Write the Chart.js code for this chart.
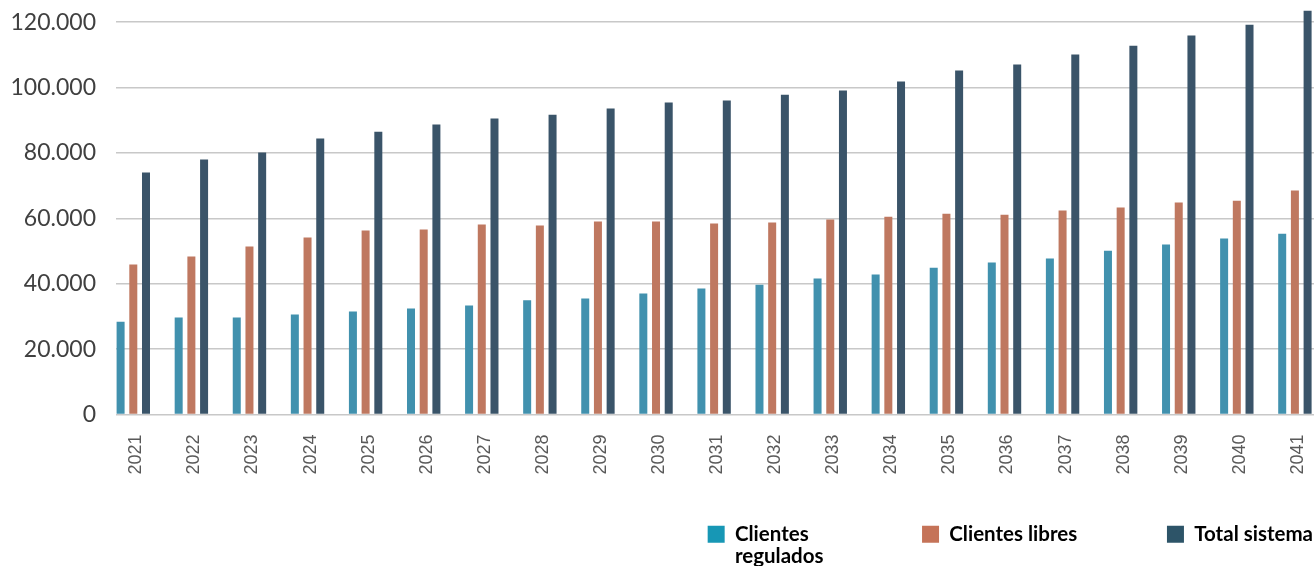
<!DOCTYPE html>
<html>
<head>
<meta charset="utf-8">
<script src="https://cdn.jsdelivr.net/npm/chart.js@4.4.1/dist/chart.umd.min.js"></script>
<style>
  html, body { margin: 0; padding: 0; background: #fff; overflow: hidden; }
  #chartBox { position: absolute; left: 0; top: 0; }
  canvas { display: block; }
</style>
</head>
<body>
<div id="chartBox"><canvas id="barChart"></canvas></div>
<script>
"use strict";
// Categorias y valores (clientes)
var years = ['2021', '2022', '2023', '2024', '2025', '2026', '2027', '2028', '2029', '2030', '2031',
             '2032', '2033', '2034', '2035', '2036', '2037', '2038', '2039', '2040', '2041'];
var regulados = [28400, 29700, 29700, 30600, 31500, 32400, 33300, 34900, 35500, 37000, 38500,
                 39700, 41600, 42800, 44900, 46500, 47700, 50100, 52000, 53800, 55300];
var libres = [45900, 48300, 51400, 54100, 56300, 56600, 58100, 57800, 59000, 59000, 58400,
              58700, 59600, 60500, 61400, 61100, 62400, 63300, 64800, 65400, 68500];
var totalSistema = [74000, 78000, 80100, 84400, 86500, 88700, 90500, 91700, 93600, 95400, 96000,
                    97800, 99100, 101800, 105200, 107000, 110100, 112800, 115900, 119200, 123500];
var yTicks = [0, 20000, 40000, 60000, 80000, 100000, 120000];
var seriesNames = [['Clientes', 'regulados'], 'Clientes libres', 'Total sistema'];

var barColors = ['#4191ae', '#bf7860', '#3a5469'];
var legendColors = ['#1797b5', '#c57358', '#2d5468'];

// layout
var H = 566;
var plotLeft = 116;
var catWidth = 58.08;
var firstCenter = 133.3;
var legendBoxX = [708, 923, 1168];   // inicio de cada item de la leyenda
var legendPad = 10;
var legendFont = { family: 'Lato', size: 20.5, weight: 'bold', lineHeight: 1.07 };
var boxSize = 17;

// relleno con espacios para separar los items como en el original
var measure = document.createElement('canvas').getContext('2d');
measure.font = 'bold 20.5px Lato';
function longest(n) {
    return Array.isArray(n) ? n.reduce(function(a, b) { return a.length > b.length ? a : b; }) : n;
}
function padTo(str, width) {
    var s = str;
    while (measure.measureText(s + ' ').width <= width) s += ' ';
    while (measure.measureText(s + '\u200A').width <= width) s += '\u200A';
    return s;
}
var fixed = boxSize + legendFont.size / 2 + legendPad;
var legendTexts = seriesNames.map(function(n, i) {
    var base = longest(n);
    var target = i < 2 ? legendBoxX[i + 1] - legendBoxX[i] - fixed : measure.measureText(base).width;
    var padded = padTo(base, target);
    if (Array.isArray(n)) {
        var arr = n.map(function(s) { return s === base ? padded : s; });
        arr.toString = function() { return padded; };
        return arr;
    }
    return padded;
});
var rowWidth = 0;
legendTexts.forEach(function(t) {
    rowWidth += fixed + measure.measureText(longest(t)).width;
});
var W = Math.round(legendBoxX[0] + rowWidth);

var xMin = -(firstCenter - plotLeft) / catWidth;
var xMax = xMin + (W - plotLeft) / catWidth;

function points(arr) {
    return arr.map(function(v, i) { return { x: i, y: v }; });
}

function fmt(v) {
    return String(v).replace(/\B(?=(\d{3})+(?!\d))/g, '.');
}

var canvas = document.getElementById('barChart');
canvas.width = W;
canvas.height = H;

// la leyenda recorta su caja: se alarga hasta el borde para la segunda linea
var legendBoxPlugin = {
    id: 'legendBox',
    afterLayout: function(chart) {
        if (chart.legend) {
            chart.legend.bottom = chart.height;
            chart.legend.height = chart.legend.bottom - chart.legend.top;
        }
    }
};

var sets = [regulados, libres, totalSistema];
var data1 = {
    datasets: sets.map(function(arr, i) {
        var name = seriesNames[i];
        return {
            label: Array.isArray(name) ? name.join(' ') : name,
            data: points(arr),
            backgroundColor: barColors[i],
            borderWidth: 0,
            categoryPercentage: 0.656,
            barPercentage: 0.63
        };
    })
};

var myBarChart = new Chart(canvas.getContext('2d'), {
    type: 'bar',
    data: data1,
    plugins: [legendBoxPlugin],
    options: {
        responsive: false,
        animation: false,
        devicePixelRatio: 1,
        layout: { padding: { top: 9, right: 0, bottom: 11.5, left: 0 } },
        scales: {
            x: {
                type: 'linear',
                offset: false,
                min: xMin,
                max: xMax,
                grid: { display: false, drawTicks: false, offset: false },
                border: { display: false },
                afterBuildTicks: function(scale) {
                    scale.ticks = years.map(function(y, i) { return { value: i }; });
                },
                afterFit: function(scale) {
                    scale.height = 99.5;
                    scale.paddingLeft = 0;
                    scale.paddingRight = 0;
                },
                ticks: {
                    autoSkip: false,
                    minRotation: 90,
                    maxRotation: 90,
                    padding: 20,
                    labelOffset: 3,
                    color: '#595959',
                    font: { family: 'Arial', size: 18 },
                    callback: function(v) { return years[v]; }
                }
            },
            y: {
                min: 0,
                max: 124000,
                grid: { color: '#c8c8c8', lineWidth: 1.5, drawTicks: false },
                border: { display: false },
                afterBuildTicks: function(scale) {
                    scale.ticks = yTicks.map(function(v) { return { value: v }; });
                },
                afterFit: function(scale) {
                    scale.width = plotLeft;
                    scale.paddingTop = 0;
                    scale.paddingBottom = 0;
                },
                ticks: {
                    padding: 20,
                    color: '#404040',
                    font: { family: 'Lato', size: 23 },
                    callback: function(v) { return fmt(v); }
                }
            }
        },
        plugins: {
            tooltip: { enabled: false },
            legend: {
                position: 'bottom',
                align: 'end',
                labels: {
                    boxWidth: boxSize,
                    boxHeight: boxSize,
                    padding: legendPad,
                    color: '#404040',
                    font: legendFont,
                    generateLabels: function(chart) {
                        return legendTexts.map(function(t, i) {
                            return {
                                text: t,
                                fillStyle: legendColors[i],
                                strokeStyle: legendColors[i],
                                lineWidth: 0,
                                hidden: false,
                                datasetIndex: i
                            };
                        });
                    }
                }
            }
        }
    }
});
</script>
</body>
</html>
